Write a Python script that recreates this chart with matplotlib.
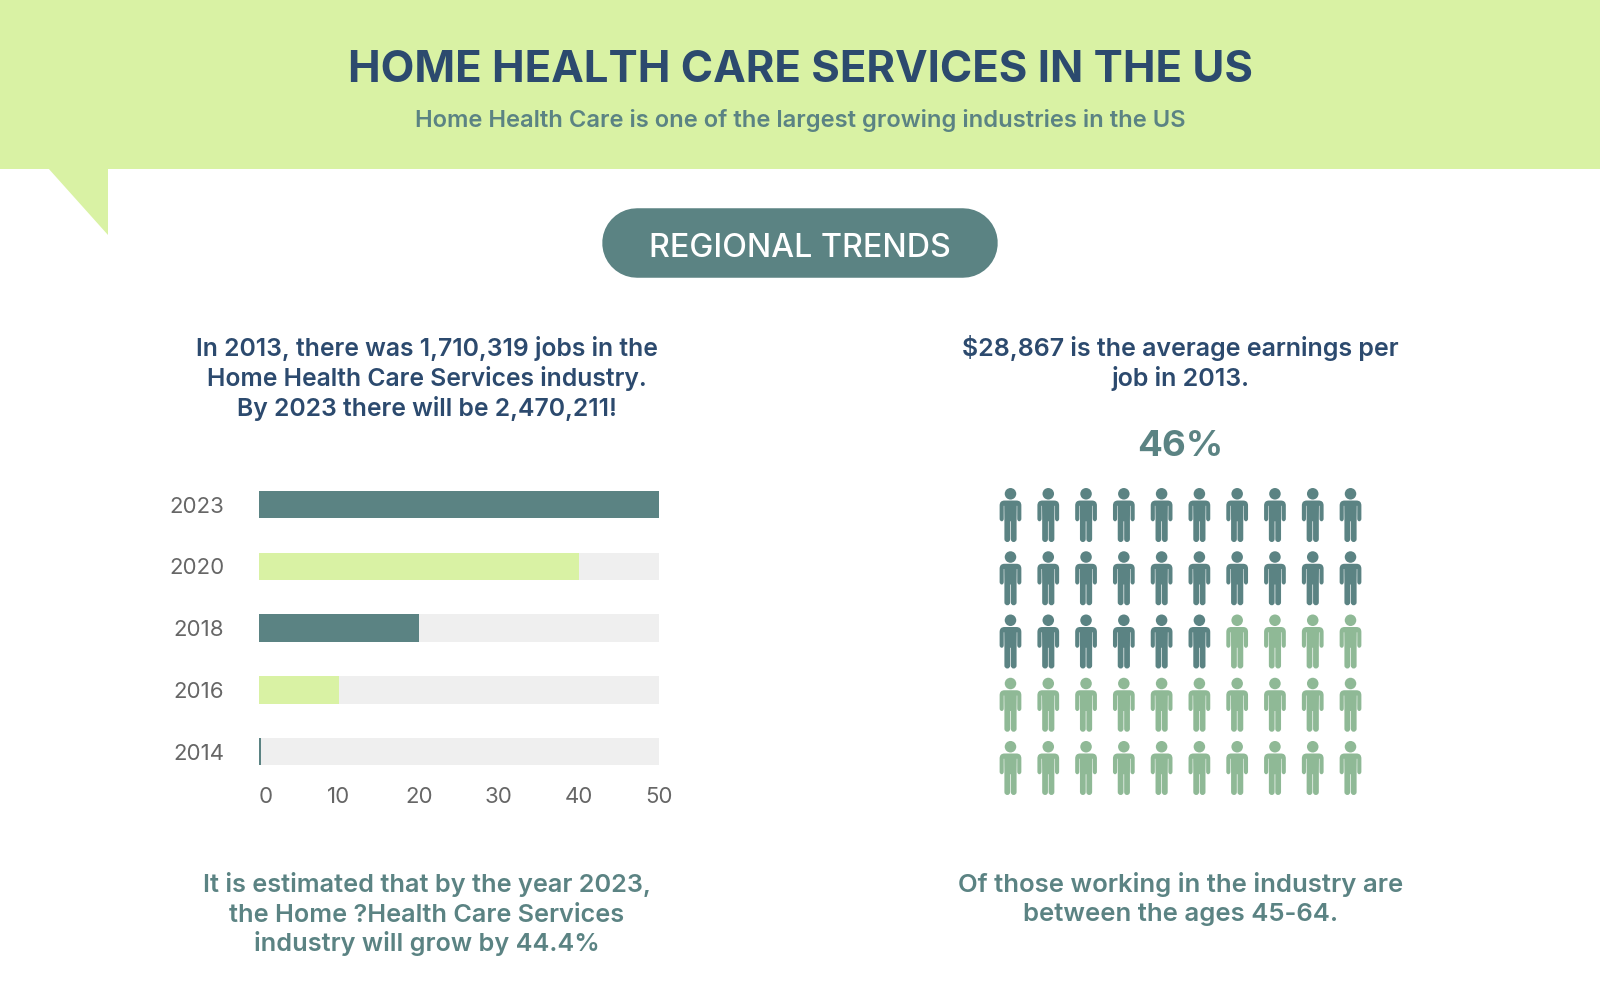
import matplotlib
matplotlib.use('Agg')
import matplotlib.pyplot as plt
from matplotlib.patches import Polygon
from matplotlib.path import Path
import numpy as np

plt.rcParams['font.family'] = ['Inter', 'DejaVu Sans']

W, H = 1600, 999

# data
years = ['2014', '2016', '2018', '2020', '2023']
values = [0.3, 10, 20, 40, 50]
bar_colors = ['#5b8383', '#d9f2a4', '#5b8383', '#d9f2a4', '#5b8383']
bar_max = 50
x_ticks = [0, 10, 20, 30, 40, 50]
n_cols = 10
n_rows = 5
n_dark = 26

NAVY = '#2c4a6e'
TEAL = '#5b8383'
GREEN = '#d9f2a4'
PERSON = '#8fb996'
GREY = '#efefef'
TICK = '#666666'


def add_axes_px(fig, x0, y0, x1, y1):
    # pixel box, y counted from the top
    return fig.add_axes([x0 / W, 1 - y1 / H, (x1 - x0) / W, (y1 - y0) / H])


def person_path():
    # outline read from the zoomed icon, dx from centre / y from top of head
    M, L, Q, C = Path.MOVETO, Path.LINETO, Path.CURVE3, Path.CLOSEPOLY
    outline = [
        (M, -18, 37), (L, 18, 37), (Q, 33, 37), (Q, 33, 52), (L, 33, 92), (Q, 33, 100), (Q, 26.5, 100),
        (Q, 20.5, 100), (Q, 20.5, 92), (L, 20.5, 53), (L, 19, 53), (L, 18.5, 100),
        (L, 18.5, 154), (Q, 18.5, 163), (Q, 9.5, 163), (Q, 1, 163), (Q, 1, 154),
        (L, 1, 100), (L, -1, 100), (L, -1, 154), (Q, -1, 163), (Q, -9.5, 163),
        (Q, -18.5, 163), (Q, -18.5, 154), (L, -18.5, 100), (L, -19, 53), (L, -20.5, 53),
        (L, -20.5, 92), (Q, -20.5, 100), (Q, -26.5, 100), (Q, -33, 100), (Q, -33, 92),
        (L, -33, 52), (Q, -33, 37), (Q, -18, 37), (C, -18, 37),
    ]
    codes = [o[0] for o in outline]
    verts = np.array([o[1:] for o in outline], dtype=float)
    head = Path.circle((0, 16.5), 17.5)
    full = Path.make_compound_path(Path(verts, codes), head)
    v = full.vertices.copy()
    # centre vertically and flip so head is up
    v[:, 1] = 81 - v[:, 1]
    return Path(v, full.codes)


fig = plt.figure(figsize=(W / 100, H / 100), dpi=100, facecolor='white')

# page layer in pixel coords
bg = fig.add_axes([0, 0, 1, 1])
bg.set_xlim(0, W)
bg.set_ylim(H, 0)
bg.axis('off')
bg.add_patch(plt.Rectangle((0, 0), W, 169, color=GREEN, lw=0))
bg.add_patch(Polygon([(48, 168), (108, 168), (108, 235)], closed=True, color=GREEN, lw=0))
# pill: a fat round-capped line, 69.5 px thick
bg.plot([636.75, 963.25], [242.75, 242.75], color=TEAL, lw=69.5 * 0.72, solid_capstyle='round')

bg.text(800, 82.5, 'HOME HEALTH CARE SERVICES IN THE US', ha='center', va='baseline',
        fontsize=31.5, fontweight='bold', color=NAVY)
bg.text(800, 127, 'Home Health Care is one of the largest growing industries in the US',
        ha='center', va='baseline', fontsize=17.1, fontweight='semibold', color=TEAL)
bg.text(800, 257, 'REGIONAL TRENDS', ha='center', va='baseline', fontsize=23.2,
        fontweight='medium', color='white')

left_lines = ['In 2013, there was 1,710,319 jobs in the',
              'Home Health Care Services industry.',
              'By 2023 there will be 2,470,211!']
for y, s in zip([356, 386, 416], left_lines):
    bg.text(426.5, y, s, ha='center', va='baseline', fontsize=17.8, fontweight='semibold', color=NAVY)

right_lines = ['$28,867 is the average earnings per', 'job in 2013.']
for y, s in zip([356, 386], right_lines):
    bg.text(1180.5, y, s, ha='center', va='baseline', fontsize=18, fontweight='semibold', color=NAVY)

bg.text(1180.5, 456, '46%', ha='center', va='baseline', fontsize=26.5, fontweight='bold', color=TEAL)

bottom_left = ['It is estimated that by the year 2023,',
               'the Home ?Health Care Services',
               'industry will grow by 44.4%']
for y, s in zip([892, 921.5, 951.5], bottom_left):
    bg.text(426.5, y, s, ha='center', va='baseline', fontsize=18.2, fontweight='semibold', color=TEAL)

bottom_right = ['Of those working in the industry are', 'between the ages 45-64.']
for y, s in zip([892, 921.5], bottom_right):
    bg.text(1180.5, y, s, ha='center', va='baseline', fontsize=18.5, fontweight='semibold', color=TEAL)

# bar chart
ax = add_axes_px(fig, 259, 473.7, 659, 782.4)
ax.set_facecolor('none')
pos = np.arange(len(years))
ax.barh(pos, [bar_max] * len(years), height=0.446, color=GREY, lw=0)
ax.barh(pos, values, height=0.446, color=bar_colors, lw=0)
ax.set_xlim(0, bar_max)
ax.set_ylim(-0.5, len(years) - 0.5)
ax.set_yticks(pos, years)
ax.set_xticks(x_ticks, [str(t) for t in x_ticks])
ax.tick_params(length=0, labelsize=16, labelcolor=TICK)
ax.tick_params(axis='y', pad=25)
ax.tick_params(axis='x', pad=3)
for s in ax.spines.values():
    s.set_visible(False)
ax.get_xticklabels()[0].set_ha('left')

# people waffle, top rows dark
wax = add_axes_px(fig, 1010.5 - 18.9, 515 - 31.6, 1350.5 + 18.9, 768 + 31.6)
wax.set_xlim(-0.5, n_cols - 0.5)
wax.set_ylim(n_rows - 0.5, -0.5)
wax.axis('off')
cols, rows = np.meshgrid(np.arange(n_cols), np.arange(n_rows))
cols, rows = cols.ravel(), rows.ravel()
colors = [TEAL if i < n_dark else PERSON for i in range(n_cols * n_rows)]
wax.scatter(cols, rows, marker=person_path(), s=1512, c=colors, linewidths=0)

fig.savefig('out.png', dpi=100)
